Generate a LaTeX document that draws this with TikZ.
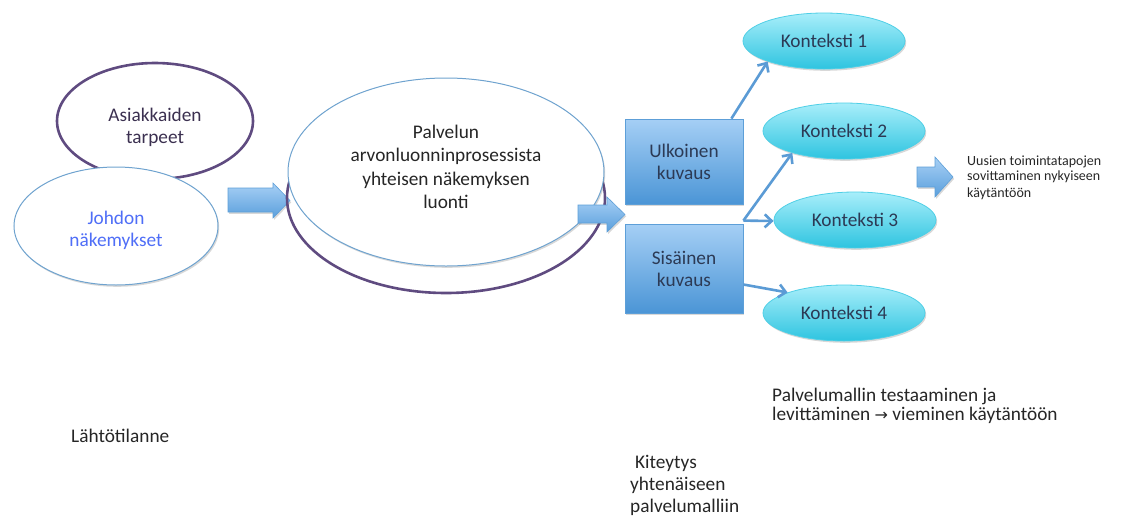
\documentclass[tikz,border=0pt]{standalone}
\usepackage{fontspec}
\setmainfont{Carlito}
\newfontfamily\symfont{DejaVu Sans}
\usetikzlibrary{shapes.geometric,arrows.meta,shadows}
\definecolor{purp}{HTML}{5F4B80}
\definecolor{purptext}{HTML}{3B3050}
\definecolor{blueline}{HTML}{6FA3CF}
\definecolor{johdon}{HTML}{4F6EF7}
\definecolor{boxtop}{HTML}{A5CFF5}
\definecolor{boxbot}{HTML}{4B95D6}
\definecolor{boxborder}{HTML}{5D9FD8}
\definecolor{boxtext}{HTML}{2C3A55}
\definecolor{cyantop}{HTML}{A8EEFA}
\definecolor{cyanbot}{HTML}{2EC4E0}
\definecolor{cyanborder}{HTML}{4FCFE6}
\definecolor{conn}{HTML}{5B9BD5}
\definecolor{arrtop}{HTML}{A8D0F5}
\definecolor{arrbot}{HTML}{5A9FDC}
\definecolor{txt}{HTML}{262626}
\begin{document}
\begin{tikzpicture}[x=1pt,y=-1pt,
  shad/.style={drop shadow={shadow xshift=1.2pt,shadow yshift=-1.8pt,opacity=0.22,fill=black!70}},
  purpleell/.style={ellipse,draw=purp,line width=2.6pt,inner sep=0pt},
  whiteell/.style={ellipse,draw=blueline,line width=1pt,fill=white,inner sep=0pt,shad},
  ctxell/.style={ellipse,draw=cyanborder,line width=0.8pt,top color=cyantop,bottom color=cyanbot,
     inner sep=0pt,minimum width=162pt,minimum height=56pt,text=boxtext,
     font=\fontsize{19.3}{22}\selectfont,shad},
  descbox/.style={rectangle,draw=boxborder,line width=0.8pt,top color=boxtop,bottom color=boxbot,
     minimum width=118pt,align=center,text=boxtext,font=\fontsize{19.3}{22}\selectfont,shad},
  blockarr/.style={draw=boxborder,line width=0.6pt,top color=arrtop,bottom color=arrbot,shad},
  connector/.style={draw=conn,line width=2.6pt,-{Straight Barb[length=7pt,width=13pt,line width=2.6pt]}},
  plain/.style={text=txt,inner sep=0pt,align=left},
  centertext/.style={inner sep=0pt,align=center}
]
\useasboundingbox (0,0) rectangle (1136,515);

% left ellipses
\node[purpleell,minimum width=196pt,minimum height=116pt] (asiak) at (155,121) {};
\node[centertext,text=purptext,font=\fontsize{19.3}{22}\selectfont] (asiakT) at (155,127) {Asiakkaiden\\tarpeet};
\node[whiteell,minimum width=204pt,minimum height=118pt] (johdon) at (116,226) {};
\node[centertext,text=johdon,font=\fontsize{19.3}{22}\selectfont] (johdonT) at (116,230) {Johdon\\näkemykset};

% block arrow 1
\path[blockarr] (228,188) -- (273,188) -- (273,183) -- (290,200.5) -- (273,218) -- (273,212) -- (228,212) -- cycle;

% big ellipses
\node[purpleell,minimum width=318pt,minimum height=190pt] (bigback) at (446,198) {};
\node[whiteell,minimum width=316pt,minimum height=188pt] (big) at (446,172) {};
\node[centertext,text=txt,font=\fontsize{19.3}{23.5}\selectfont] (bigT) at (446,167)
      {Palvelun\\arvonluonninprosessista\\yhteisen näkemyksen\\luonti};

% block arrow 2
\path[blockarr] (578,205) -- (607,205) -- (607,197) -- (625,214.5) -- (607,232) -- (607,223) -- (578,223) -- cycle;

% boxes
\node[descbox,minimum height=85pt] (ulk) at (684,161.5) {Ulkoinen\\kuvaus};
\node[descbox,minimum height=89pt] (sis) at (684,268.5) {Sisäinen\\kuvaus};

% context ellipses
\node[ctxell] (k1) at (824,41) {Konteksti 1};
\node[ctxell] (k2) at (844,131) {Konteksti 2};
\node[ctxell] (k3) at (855,220) {Konteksti 3};
\node[ctxell] (k4) at (844,313) {Konteksti 4};

% connectors
\draw[connector] ([xshift=-12pt]ulk.north east) -- (k1.200);
\draw[connector] ([yshift=3pt]sis.north east) -- (k2.203);
\draw[connector] ([yshift=3pt]sis.north east) -- ([yshift=-1pt]k3.west);
\draw[connector] ([yshift=-16pt]sis.east) -- (k4.160);

% block arrow 3
\path[blockarr] (917,167) -- (935,167) -- (935,157) -- (953,177) -- (935,197) -- (935,187) -- (917,187) -- cycle;

% texts (anchor at baseline of last line)
\node[plain,anchor=base west,font=\fontsize{14}{14.5}\selectfont] (uusien) at (967,197.5)
  {Uusien toimintatapojen\\sovittaminen nykyiseen\\[3pt]käytäntöön};
\node[plain,anchor=base west,font=\fontsize{19.3}{19}\selectfont] (testaus) at (772,420)
  {Palvelumallin testaaminen ja\\levittäminen {\symfont\fontsize{16}{19}\selectfont →} vieminen käytäntöön};
\node[plain,anchor=base west,font=\fontsize{19.3}{21.8}\selectfont] (kiteytys) at (630,512)
  {\hspace{5pt}Kiteytys\\yhtenäiseen\\palvelumalliin};
\node[plain,anchor=base west,font=\fontsize{19.3}{21}\selectfont] (lahto) at (71,442) {Lähtötilanne};
\end{tikzpicture}
\end{document}
